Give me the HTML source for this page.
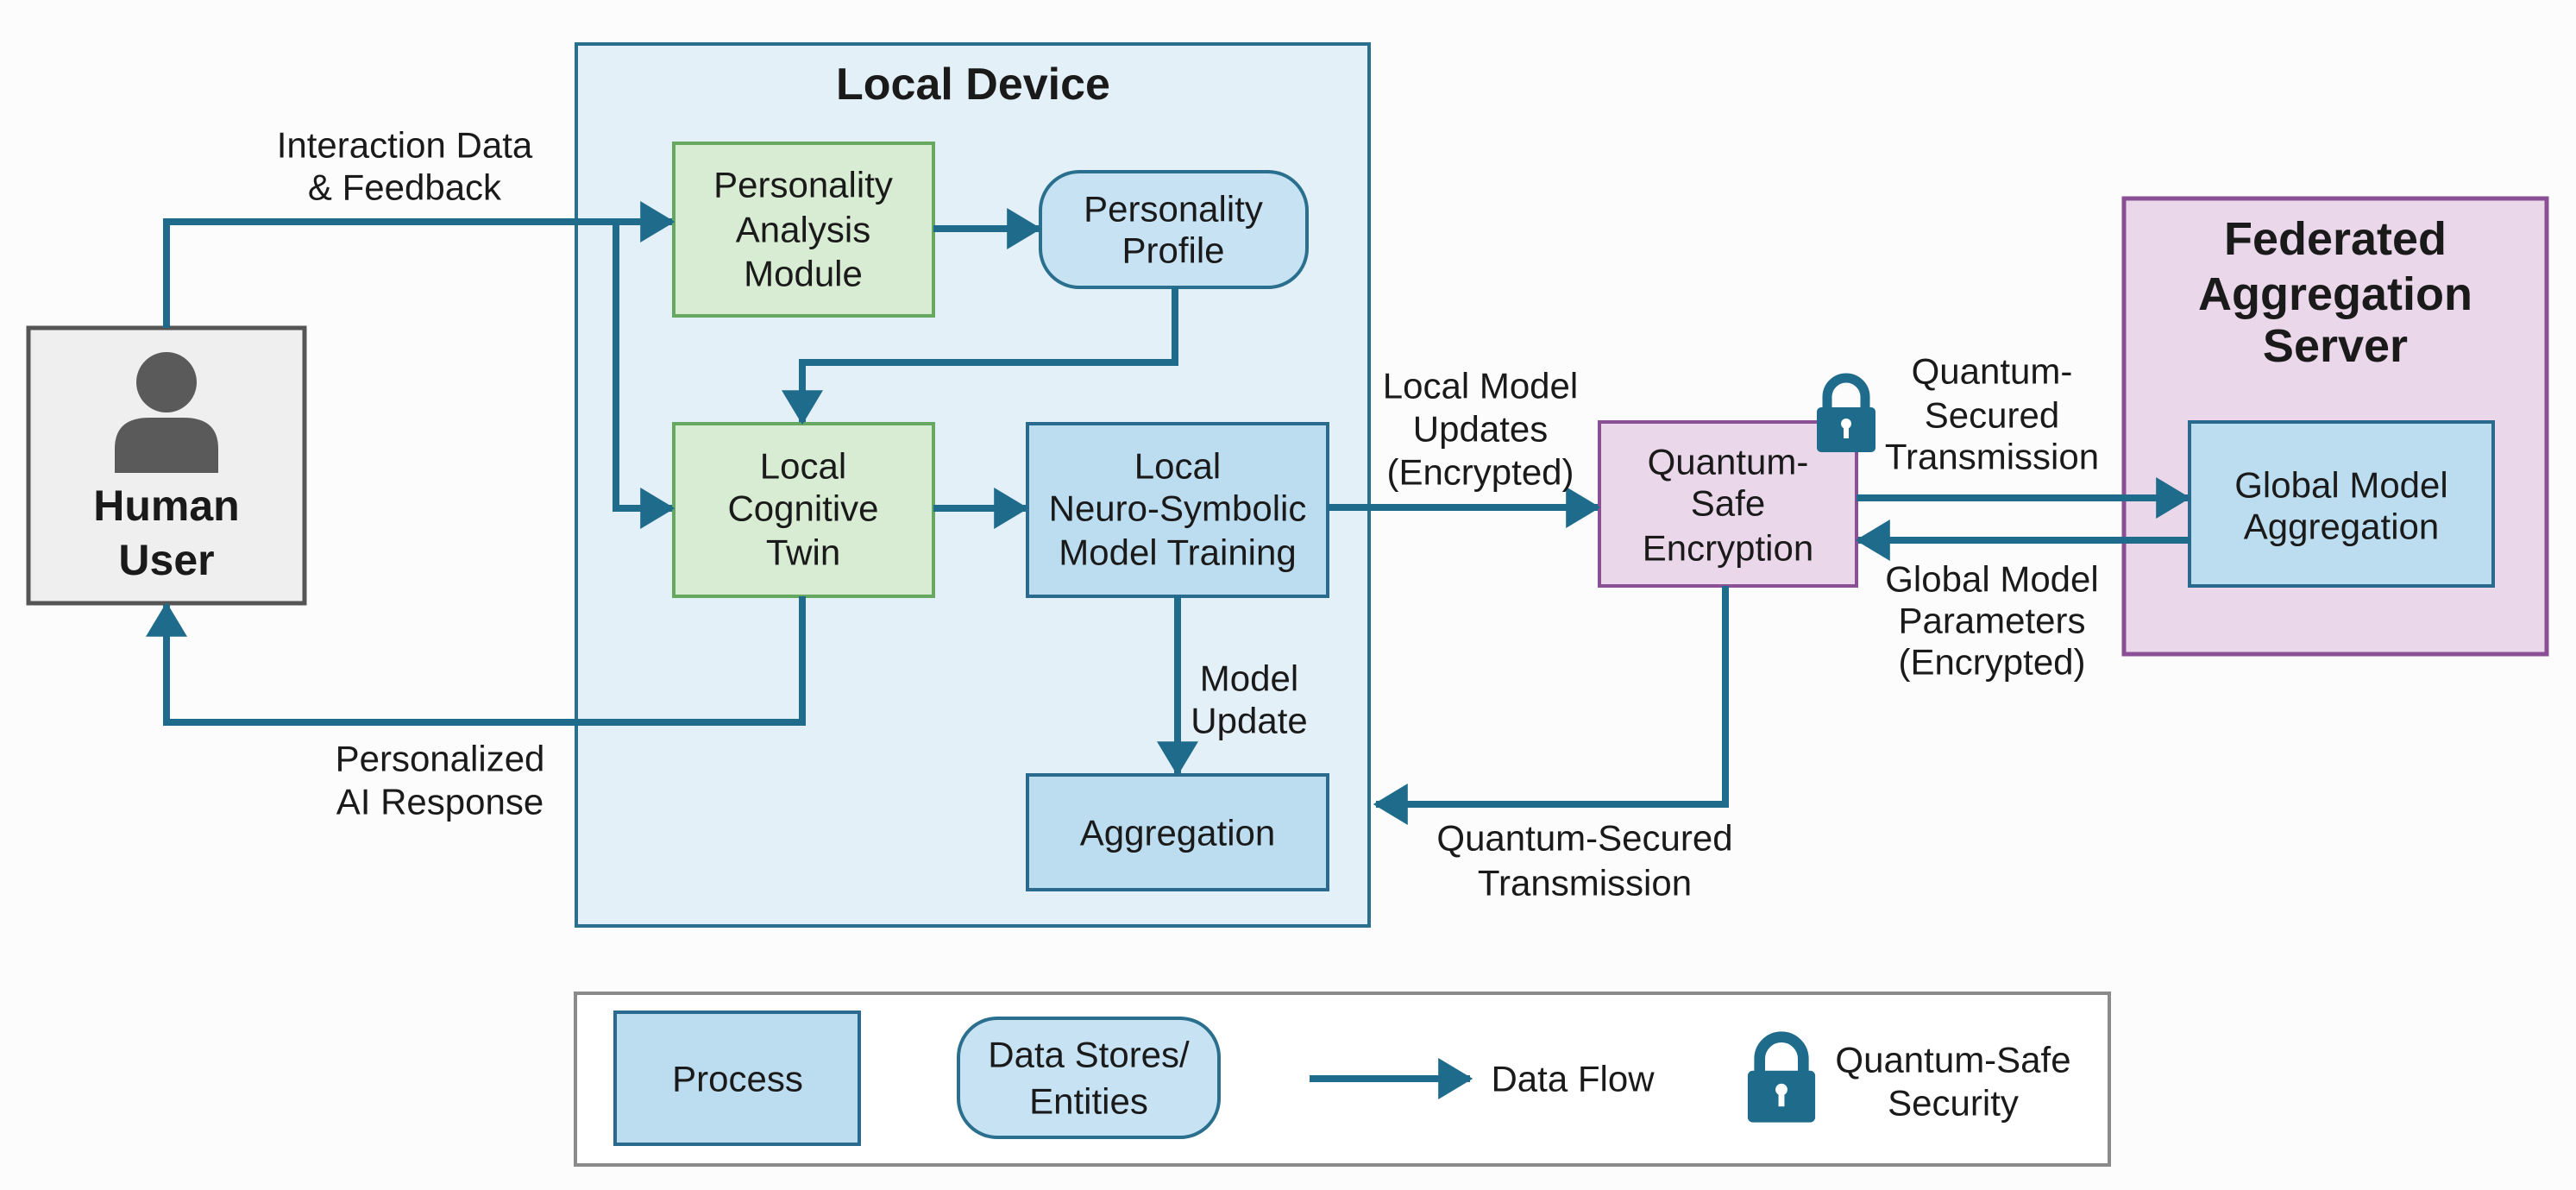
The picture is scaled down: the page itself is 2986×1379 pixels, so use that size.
<!DOCTYPE html>
<html><head><meta charset="utf-8"><style>
html,body{margin:0;padding:0;background:#fcfcfc;}
svg{display:block;}
text{font-family:"Liberation Sans Narrow","Liberation Sans",Arial,sans-serif;fill:#1a1a1a;text-anchor:middle;dominant-baseline:central;}
.b{font-family:"Liberation Sans",Arial,sans-serif;font-weight:bold;}
</style></head><body>
<svg width="2986" height="1379" viewBox="0 0 2986 1379" xmlns="http://www.w3.org/2000/svg">
<defs>
<marker id="ah" markerWidth="5" markerHeight="6" refX="4.6" refY="3" orient="auto" markerUnits="strokeWidth">
<path d="M0,0 L5,3 L0,6 Z" fill="#1f6b8c"/>
</marker>
<g id="lock">
<path d="M-22,0 V-14 A22,22 0 0 1 22,-14 V0" fill="none" stroke="#1f6b8c" stroke-width="11"/>
<rect x="-34" y="-2" width="68" height="52" rx="5" fill="#1f6b8c"/>
<circle cx="0" cy="17" r="6" fill="#fff"/>
<rect x="-3" y="18" width="6" height="16" fill="#fff"/>
</g>
</defs>

<!-- Local Device -->
<rect x="668" y="51" width="919" height="1022" fill="#e4f0f8" stroke="#2a6f8e" stroke-width="4"/>
<text class="b" x="1128" y="98" font-size="52">Local Device</text>

<!-- Human user -->
<rect x="33" y="380" width="320" height="319" fill="#efefef" stroke="#555" stroke-width="5"/>
<circle cx="193" cy="443" r="35" fill="#5a5a5a"/>
<path d="M133,548 V520 Q133,484 173,484 L213,484 Q253,484 253,520 V548 Z" fill="#5a5a5a"/>
<text class="b" x="193" y="586" font-size="50">Human</text>
<text class="b" x="193" y="649" font-size="50">User</text>

<!-- boxes -->
<rect x="781" y="166" width="301" height="200" fill="#d8ecd3" stroke="#66a860" stroke-width="4"/>
<text x="931" y="214" font-size="42">Personality</text>
<text x="931" y="266" font-size="42">Analysis</text>
<text x="931" y="317" font-size="42">Module</text>

<rect x="1206" y="199" width="309" height="134" rx="45" fill="#c6e2f3" stroke="#2a6f8e" stroke-width="4"/>
<text x="1360" y="242" font-size="42">Personality</text>
<text x="1360" y="290" font-size="42">Profile</text>

<rect x="781" y="491" width="301" height="200" fill="#d8ecd3" stroke="#66a860" stroke-width="4"/>
<text x="931" y="540" font-size="42">Local</text>
<text x="931" y="589" font-size="42">Cognitive</text>
<text x="931" y="640" font-size="42">Twin</text>

<rect x="1191" y="491" width="348" height="200" fill="#bcdcef" stroke="#2a6a8e" stroke-width="4"/>
<text x="1365" y="540" font-size="42">Local</text>
<text x="1365" y="589" font-size="42">Neuro-Symbolic</text>
<text x="1365" y="640" font-size="42">Model Training</text>

<rect x="1191" y="898" width="348" height="133" fill="#bcdcef" stroke="#2a6a8e" stroke-width="4"/>
<text x="1365" y="965" font-size="42">Aggregation</text>

<!-- QSE -->
<rect x="1854" y="489" width="298" height="190" fill="#ead8ea" stroke="#8a4f94" stroke-width="4"/>
<text x="2003" y="535" font-size="42">Quantum-</text>
<text x="2003" y="583" font-size="42">Safe</text>
<text x="2003" y="635" font-size="42">Encryption</text>
<use href="#lock" x="2140" y="474"/>

<!-- Federated -->
<rect x="2462" y="230" width="490" height="528" fill="#ead8ea" stroke="#8a4f94" stroke-width="5"/>
<text class="b" x="2707" y="277" font-size="54">Federated</text>
<text class="b" x="2707" y="341" font-size="54">Aggregation</text>
<text class="b" x="2707" y="401" font-size="54">Server</text>
<rect x="2538" y="489" width="352" height="190" fill="#bcdcef" stroke="#2a6a8e" stroke-width="4"/>
<text x="2714" y="562" font-size="42">Global Model</text>
<text x="2714" y="610" font-size="42">Aggregation</text>

<!-- connectors -->
<g fill="none" stroke="#1f6b8c" stroke-width="8">
<path d="M193,380 V257 H779" marker-end="url(#ah)"/>
<path d="M714,257 V589 H779" marker-end="url(#ah)"/>
<path d="M1082,265 H1204" marker-end="url(#ah)"/>
<path d="M1362,333 V420 H930 V489" marker-end="url(#ah)"/>
<path d="M1082,589 H1189" marker-end="url(#ah)"/>
<path d="M930,691 V837 H193 V701" marker-end="url(#ah)"/>
<path d="M1365,691 V896" marker-end="url(#ah)"/>
<path d="M1539,588 H1852" marker-end="url(#ah)"/>
<path d="M2152,577 H2536" marker-end="url(#ah)"/>
<path d="M2538,626 H2154" marker-end="url(#ah)"/>
<path d="M2000,679 V932 H1595" marker-end="url(#ah)"/>
</g>

<!-- labels -->
<text x="469" y="168" font-size="42">Interaction Data</text>
<text x="469" y="217" font-size="42">&amp; Feedback</text>
<text x="510" y="879" font-size="42">Personalized</text>
<text x="510" y="929" font-size="42">AI Response</text>
<text x="1448" y="786" font-size="42">Model</text>
<text x="1448" y="835" font-size="42">Update</text>
<text x="1716" y="447" font-size="42">Local Model</text>
<text x="1716" y="497" font-size="42">Updates</text>
<text x="1716" y="547" font-size="42">(Encrypted)</text>
<text x="2309" y="430" font-size="42">Quantum-</text>
<text x="2309" y="481" font-size="42">Secured</text>
<text x="2309" y="529" font-size="42">Transmission</text>
<text x="2309" y="671" font-size="42">Global Model</text>
<text x="2309" y="719" font-size="42">Parameters</text>
<text x="2309" y="767" font-size="42">(Encrypted)</text>
<text x="1837" y="971" font-size="42">Quantum-Secured</text>
<text x="1837" y="1023" font-size="42">Transmission</text>

<!-- legend -->
<rect x="667" y="1151" width="1778" height="199" fill="#fff" stroke="#8a8a8a" stroke-width="4"/>
<rect x="713" y="1173" width="283" height="153" fill="#bcdcef" stroke="#2a6a8e" stroke-width="4"/>
<text x="855" y="1250" font-size="42">Process</text>
<rect x="1111" y="1180" width="302" height="138" rx="45" fill="#c6e2f3" stroke="#2a6f8e" stroke-width="4"/>
<text x="1262" y="1222" font-size="42">Data Stores/</text>
<text x="1262" y="1276" font-size="42">Entities</text>
<path d="M1518,1250 H1704" fill="none" stroke="#1f6b8c" stroke-width="8" marker-end="url(#ah)"/>
<text x="1823" y="1250" font-size="42">Data Flow</text>
<g transform="translate(2065,1250) scale(1.15)"><use href="#lock" x="0" y="-6"/></g>
<text x="2264" y="1228" font-size="42">Quantum-Safe</text>
<text x="2264" y="1278" font-size="42">Security</text>
</svg>
</body></html>
